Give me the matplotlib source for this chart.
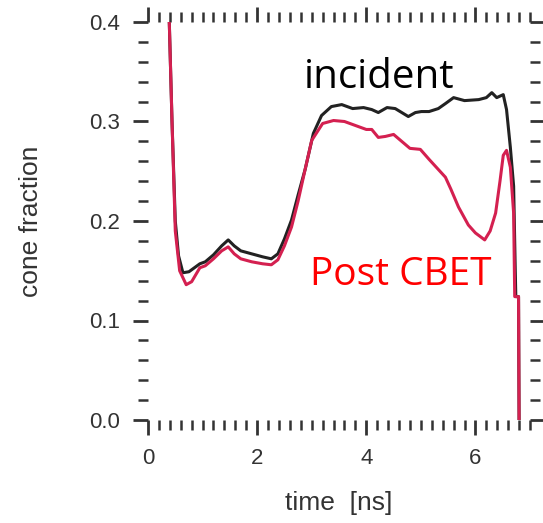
import numpy as np
import matplotlib
matplotlib.use("Agg")
import matplotlib.pyplot as plt
from matplotlib.ticker import MultipleLocator, FormatStrFormatter

# incident cone fraction (black curve)
t_inc = [0.39, 0.44, 0.50, 0.56, 0.64, 0.75, 0.85, 0.95, 1.05, 1.20, 1.35, 1.47,
         1.58, 1.70, 1.90, 2.10, 2.26, 2.38, 2.50, 2.63, 2.75, 2.88, 3.03, 3.18,
         3.36, 3.55, 3.75, 3.95, 4.10, 4.22, 4.38, 4.53, 4.65, 4.77, 4.90, 5.01,
         5.15, 5.32, 5.45, 5.60, 5.80, 6.06, 6.20, 6.30, 6.39, 6.51, 6.57, 6.64,
         6.70, 6.73, 6.74, 6.79, 6.80]
f_inc = [0.400, 0.300, 0.200, 0.165, 0.148, 0.149, 0.153, 0.157, 0.159, 0.166, 0.175, 0.181,
         0.175, 0.170, 0.167, 0.164, 0.162, 0.167, 0.182, 0.201, 0.226, 0.252, 0.288, 0.306,
         0.315, 0.317, 0.313, 0.314, 0.312, 0.309, 0.314, 0.313, 0.309, 0.305, 0.309, 0.310,
         0.310, 0.313, 0.318, 0.324, 0.321, 0.322, 0.324, 0.329, 0.324, 0.327, 0.312, 0.274,
         0.235, 0.150, 0.124, 0.124, 0.000]

# post CBET cone fraction (red curve)
t_post = [0.39, 0.44, 0.50, 0.58, 0.70, 0.80, 0.95, 1.05, 1.20, 1.35, 1.47, 1.58,
          1.70, 1.90, 2.10, 2.26, 2.38, 2.50, 2.63, 2.75, 2.88, 3.00, 3.20, 3.40,
          3.60, 3.80, 4.00, 4.10, 4.22, 4.35, 4.50, 4.65, 4.80, 4.99, 5.15, 5.30,
          5.45, 5.55, 5.69, 5.87, 6.00, 6.17, 6.27, 6.37, 6.45, 6.51, 6.57, 6.64,
          6.70, 6.72, 6.79, 6.80]
f_post = [0.400, 0.300, 0.190, 0.150, 0.136, 0.139, 0.153, 0.155, 0.162, 0.170, 0.174, 0.167,
          0.162, 0.159, 0.157, 0.156, 0.161, 0.175, 0.194, 0.220, 0.252, 0.281, 0.298, 0.301,
          0.300, 0.296, 0.292, 0.292, 0.284, 0.285, 0.287, 0.280, 0.273, 0.272, 0.262, 0.253,
          0.244, 0.232, 0.214, 0.196, 0.188, 0.181, 0.190, 0.208, 0.240, 0.266, 0.271, 0.254,
          0.208, 0.124, 0.124, 0.000]

plt.rcParams['font.family'] = ['Liberation Sans', 'DejaVu Sans']

fig = plt.figure(figsize=(5.43, 5.23), dpi=100)
ax = fig.add_axes([148 / 543, 1 - 420 / 523, 382 / 543, 398 / 523])

ax.plot(t_inc, f_inc, color='#222222', lw=2.2)
ax.plot(t_post, f_post, color='#d42050', lw=2.2)

ax.set_xlim(0, 7)
ax.set_ylim(0, 0.4)
for s in ax.spines.values():
    s.set_visible(False)

ax.xaxis.set_major_locator(MultipleLocator(2))
ax.xaxis.set_minor_locator(MultipleLocator(0.2))
ax.yaxis.set_major_locator(MultipleLocator(0.1))
ax.yaxis.set_minor_locator(MultipleLocator(0.02))
ax.yaxis.set_major_formatter(FormatStrFormatter('%.1f'))
ax.tick_params(which='both', direction='out', top=True, right=True,
               color='#333333', labelsize=16, labelcolor='#333333')
ax.tick_params(which='major', length=11, width=2.0, pad=9)
ax.tick_params(which='minor', length=7.5, width=1.8)

ax.set_xlabel('time  [ns]', fontsize=19, color='#333333', labelpad=16)
ax.set_ylabel('cone fraction', fontsize=19, color='#333333', labelpad=33)

ax.text(2.86, 0.334, 'incident', fontsize=29, color='black',
        family=['Open Sans', 'DejaVu Sans'])
ax.text(2.96, 0.136, 'Post CBET', fontsize=28, color='#ff0000',
        family=['Open Sans', 'DejaVu Sans'])

fig.savefig('out.png', dpi=100)
